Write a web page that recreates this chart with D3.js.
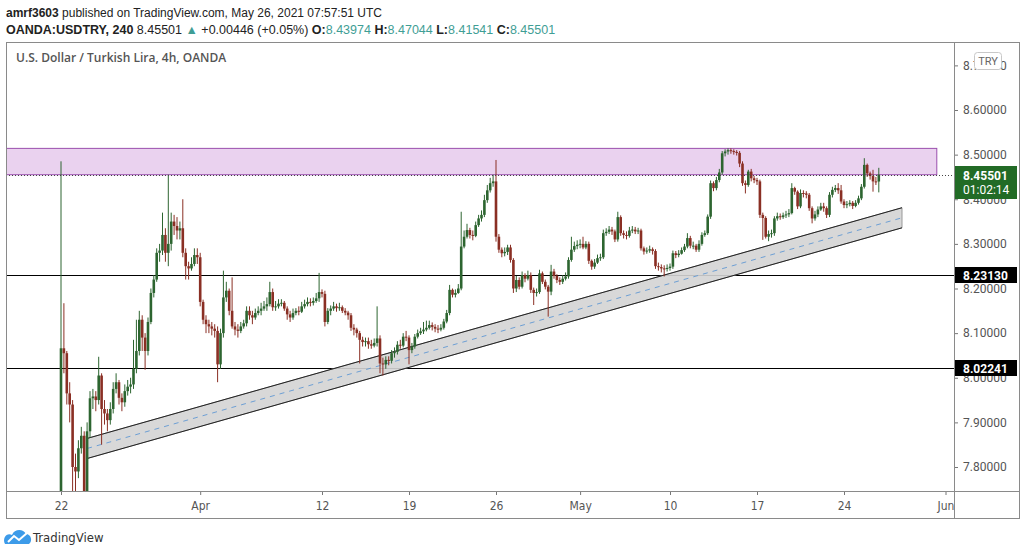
<!DOCTYPE html>
<html>
<head>
<meta charset="utf-8">
<script src="https://cdnjs.cloudflare.com/ajax/libs/d3/7.8.5/d3.min.js"></script>
<style>
  body { margin: 0; background: #fff; }
  svg { display: block; font-family: "Liberation Sans", Arial, sans-serif; }
  .yaxis text { font-family: Roboto, sans-serif; font-size: 12px; fill: #555; }
  .xaxis text { font-family: "Liberation Sans Narrow", "DejaVu Sans Condensed", sans-serif; font-size: 12px; fill: #555; }
  .yaxis path, .xaxis path { display: none; }
  .yaxis line, .xaxis line { stroke: #777; }
</style>
</head>
<body>
<script>
// 4h candles, USDTRY, 22 Mar - 26 May 2021 (open = previous close)
var firstOpen = 7.22;
var closes = [
  8.066, 8.055, 7.965, 7.940, 7.800, 7.790, 7.842, 7.870, 7.745, 7.880,
  7.954, 7.958, 7.950, 8.005, 7.930, 7.920, 7.905, 7.930, 7.975, 7.990,
  7.955, 7.945, 7.970, 7.980, 7.985, 8.020, 8.060, 8.130, 8.090, 8.060,
  8.125, 8.190, 8.220, 8.280, 8.285, 8.320, 8.280, 8.300, 8.350, 8.340,
  8.330, 8.335, 8.280, 8.250, 8.245, 8.255, 8.275, 8.270, 8.170, 8.130,
  8.120, 8.115, 8.110, 8.105, 8.030, 8.100, 8.180, 8.195, 8.150, 8.115,
  8.108, 8.105, 8.115, 8.122, 8.150, 8.140, 8.135, 8.145, 8.150, 8.155,
  8.160, 8.165, 8.192, 8.158, 8.160, 8.166, 8.168, 8.155, 8.142, 8.135,
  8.145, 8.150, 8.148, 8.160, 8.165, 8.170, 8.168, 8.172, 8.178, 8.192,
  8.188, 8.125, 8.150, 8.155, 8.160, 8.156, 8.158, 8.150, 8.146, 8.140,
  8.112, 8.108, 8.100, 8.085, 8.080, 8.082, 8.075, 8.072, 8.078, 8.088,
  8.032, 8.030, 8.040, 8.038, 8.055, 8.058, 8.074, 8.072, 8.092, 8.090,
  8.062, 8.070, 8.092, 8.100, 8.104, 8.108, 8.112, 8.118, 8.114, 8.110,
  8.108, 8.112, 8.126, 8.145, 8.197, 8.186, 8.190, 8.200, 8.294, 8.316,
  8.331, 8.320, 8.318, 8.342, 8.357, 8.365, 8.398, 8.420, 8.436, 8.440,
  8.316, 8.287, 8.279, 8.282, 8.292, 8.264, 8.200, 8.219, 8.204, 8.230,
  8.222, 8.230, 8.197, 8.190, 8.192, 8.234, 8.215, 8.204, 8.193, 8.238,
  8.228, 8.219, 8.215, 8.222, 8.227, 8.264, 8.287, 8.295, 8.298, 8.300,
  8.292, 8.300, 8.262, 8.249, 8.258, 8.268, 8.270, 8.324, 8.327, 8.332,
  8.328, 8.310, 8.360, 8.324, 8.320, 8.318, 8.330, 8.332, 8.328, 8.330,
  8.290, 8.283, 8.285, 8.288, 8.284, 8.250, 8.248, 8.245, 8.244, 8.246,
  8.249, 8.279, 8.275, 8.278, 8.286, 8.294, 8.313, 8.296, 8.296, 8.287,
  8.300, 8.320, 8.324, 8.361, 8.436, 8.425, 8.443, 8.460, 8.503, 8.507,
  8.510, 8.508, 8.506, 8.504, 8.480, 8.436, 8.432, 8.462, 8.447, 8.443,
  8.440, 8.365, 8.358, 8.316, 8.322, 8.324, 8.357, 8.362, 8.360, 8.364,
  8.366, 8.369, 8.425, 8.417, 8.384, 8.414, 8.413, 8.410, 8.380, 8.357,
  8.366, 8.377, 8.384, 8.380, 8.365, 8.410, 8.421, 8.425, 8.420, 8.395,
  8.387, 8.389, 8.392, 8.385, 8.392, 8.402, 8.428, 8.477, 8.458, 8.452,
  8.440, 8.43974, 8.45501
];
var highs = [
  8.485, 8.167, 8.060, 7.990, 7.950, 7.830, 7.860, 7.890, 7.880, 7.900,
  7.970, 7.975, 7.970, 8.047, 8.010, 7.950, 7.930, 7.945, 7.990, 8.010,
  7.995, 7.965, 7.985, 7.995, 8.000, 8.085, 8.130, 8.150, 8.140, 8.100,
  8.135, 8.200, 8.230, 8.290, 8.300, 8.370, 8.335, 8.455, 8.370, 8.365,
  8.360, 8.350, 8.400, 8.290, 8.260, 8.270, 8.290, 8.290, 8.280, 8.175,
  8.140, 8.130, 8.125, 8.120, 8.115, 8.110, 8.240, 8.215, 8.200, 8.225,
  8.125, 8.120, 8.125, 8.130, 8.160, 8.160, 8.150, 8.155, 8.160, 8.168,
  8.172, 8.180, 8.215, 8.200, 8.172, 8.176, 8.176, 8.172, 8.160, 8.150,
  8.155, 8.156, 8.160, 8.170, 8.175, 8.180, 8.178, 8.180, 8.190, 8.235,
  8.198, 8.195, 8.156, 8.162, 8.170, 8.166, 8.168, 8.162, 8.156, 8.150,
  8.145, 8.120, 8.112, 8.105, 8.092, 8.090, 8.090, 8.085, 8.088, 8.160,
  8.095, 8.045, 8.048, 8.048, 8.062, 8.068, 8.082, 8.085, 8.100, 8.105,
  8.095, 8.078, 8.098, 8.108, 8.112, 8.125, 8.128, 8.128, 8.124, 8.120,
  8.118, 8.120, 8.132, 8.152, 8.208, 8.200, 8.198, 8.210, 8.372, 8.330,
  8.345, 8.336, 8.330, 8.350, 8.365, 8.375, 8.410, 8.432, 8.448, 8.455,
  8.488, 8.322, 8.292, 8.292, 8.298, 8.298, 8.268, 8.228, 8.225, 8.238,
  8.234, 8.240, 8.236, 8.202, 8.200, 8.242, 8.238, 8.220, 8.208, 8.253,
  8.244, 8.232, 8.225, 8.230, 8.236, 8.270, 8.316, 8.305, 8.308, 8.310,
  8.316, 8.306, 8.305, 8.265, 8.266, 8.276, 8.278, 8.332, 8.335, 8.340,
  8.338, 8.332, 8.372, 8.364, 8.330, 8.328, 8.338, 8.340, 8.338, 8.336,
  8.334, 8.294, 8.292, 8.296, 8.292, 8.288, 8.258, 8.254, 8.252, 8.254,
  8.256, 8.285, 8.284, 8.286, 8.292, 8.300, 8.324, 8.318, 8.305, 8.300,
  8.308, 8.326, 8.330, 8.366, 8.442, 8.440, 8.450, 8.468, 8.508, 8.512,
  8.514, 8.514, 8.512, 8.510, 8.508, 8.485, 8.442, 8.466, 8.468, 8.452,
  8.448, 8.444, 8.370, 8.362, 8.330, 8.332, 8.362, 8.370, 8.368, 8.370,
  8.374, 8.378, 8.436, 8.428, 8.420, 8.422, 8.420, 8.418, 8.414, 8.384,
  8.374, 8.384, 8.392, 8.392, 8.384, 8.416, 8.428, 8.432, 8.436, 8.432,
  8.400, 8.396, 8.398, 8.396, 8.398, 8.408, 8.434, 8.492, 8.480, 8.462,
  8.466, 8.450, 8.47044
];
var lows = [
  7.220, 8.010, 7.940, 7.900, 7.720, 7.700, 7.775, 7.830, 7.700, 7.740,
  7.865, 7.930, 7.925, 7.940, 7.850, 7.895, 7.880, 7.895, 7.920, 7.965,
  7.940, 7.925, 7.935, 7.960, 7.965, 7.975, 8.010, 8.050, 8.060, 8.018,
  8.050, 8.120, 8.180, 8.215, 8.260, 8.275, 8.260, 8.250, 8.285, 8.320,
  8.310, 8.310, 8.270, 8.220, 8.220, 8.240, 8.250, 8.255, 8.160, 8.120,
  8.100, 8.100, 8.095, 8.090, 7.990, 8.020, 8.090, 8.170, 8.140, 8.110,
  8.095, 8.090, 8.100, 8.110, 8.115, 8.130, 8.120, 8.130, 8.140, 8.140,
  8.150, 8.150, 8.160, 8.150, 8.150, 8.155, 8.160, 8.150, 8.130, 8.125,
  8.130, 8.140, 8.140, 8.145, 8.155, 8.160, 8.160, 8.162, 8.168, 8.170,
  8.180, 8.115, 8.120, 8.140, 8.150, 8.148, 8.150, 8.145, 8.140, 8.130,
  8.105, 8.095, 8.090, 8.032, 8.070, 8.070, 8.065, 8.065, 8.068, 8.070,
  8.010, 8.005, 8.020, 8.028, 8.032, 8.045, 8.052, 8.065, 8.068, 8.082,
  8.030, 8.055, 8.065, 8.088, 8.096, 8.098, 8.104, 8.108, 8.106, 8.102,
  8.100, 8.104, 8.108, 8.122, 8.140, 8.180, 8.180, 8.188, 8.196, 8.290,
  8.312, 8.312, 8.308, 8.315, 8.338, 8.350, 8.360, 8.392, 8.415, 8.428,
  8.305, 8.280, 8.270, 8.272, 8.275, 8.258, 8.190, 8.192, 8.198, 8.200,
  8.214, 8.218, 8.190, 8.163, 8.182, 8.188, 8.210, 8.198, 8.137, 8.185,
  8.222, 8.212, 8.208, 8.210, 8.218, 8.222, 8.260, 8.282, 8.288, 8.290,
  8.288, 8.288, 8.255, 8.242, 8.244, 8.255, 8.262, 8.266, 8.318, 8.322,
  8.320, 8.304, 8.305, 8.318, 8.312, 8.310, 8.314, 8.324, 8.322, 8.322,
  8.285, 8.276, 8.278, 8.280, 8.276, 8.244, 8.240, 8.236, 8.227, 8.238,
  8.240, 8.244, 8.268, 8.270, 8.276, 8.282, 8.290, 8.290, 8.288, 8.282,
  8.282, 8.296, 8.316, 8.320, 8.356, 8.418, 8.420, 8.438, 8.455, 8.496,
  8.500, 8.502, 8.500, 8.498, 8.472, 8.430, 8.413, 8.428, 8.440, 8.436,
  8.432, 8.358, 8.309, 8.312, 8.306, 8.314, 8.318, 8.352, 8.354, 8.356,
  8.358, 8.360, 8.366, 8.410, 8.378, 8.380, 8.404, 8.402, 8.374, 8.346,
  8.352, 8.360, 8.374, 8.372, 8.358, 8.360, 8.404, 8.416, 8.412, 8.390,
  8.380, 8.380, 8.384, 8.378, 8.382, 8.388, 8.398, 8.424, 8.450, 8.444,
  8.417, 8.432, 8.41541
];

var dateTicks = [0, 48, 90, 120, 150, 179, 210, 240, 270, 305];
var dateLabels = ["22", "Apr", "12", "19", "26", "May", "10", "17", "24", "Jun"];
var priceTicks = [7.8, 7.9, 8.0, 8.1, 8.2, 8.3, 8.4, 8.5, 8.6, 8.7];

var levels = [8.2313, 8.02241];
var zone = { top: 8.514, bottom: 8.455, end: 302 };
var channelIdx = [9, 290];
var channelUpper = [7.864, 8.381];
var channelLower = [7.819, 8.336];
var lastPrice = 8.45501, countdown = "01:02:14";
var change = "+0.00446 (+0.05%)";

var plot = { left: 6, right: 954, top: 42, bottom: 491 },
    frameRight = 1019, frameBottom = 518;

var upColor = "#2d6530", downColor = "#8a2f24", teal = "#3f9e95";

var svg = d3.select("body").append("svg")
    .attr("width", 1029)
    .attr("height", 555);

var xScale = d3.scaleLinear().domain([0, 282]).range([61, 878.8]);
var yScale = d3.scaleLinear().domain([7.8, 8.6]).range([467, 110]);

var candles = closes.map(function (c, i) {
    return { i: i, o: i === 0 ? firstOpen : closes[i - 1], h: highs[i], l: lows[i], c: c };
});

svg.append("clipPath").attr("id", "plotClip")
    .append("rect")
    .attr("x", plot.left).attr("y", plot.top)
    .attr("width", plot.right - plot.left).attr("height", plot.bottom - plot.top);

svg.append("clipPath").attr("id", "xClip")
    .append("rect")
    .attr("x", plot.left).attr("y", plot.bottom)
    .attr("width", plot.right - plot.left).attr("height", frameBottom - plot.bottom);

var g = svg.append("g").attr("clip-path", "url(#plotClip)");

// resistance zone
g.append("rect")
    .attr("x", plot.left - 5)
    .attr("y", yScale(zone.top))
    .attr("width", xScale(zone.end) - plot.left + 5)
    .attr("height", yScale(zone.bottom) - yScale(zone.top))
    .style("fill", "#ead2ef")
    .attr("stroke", "#9a4fae")
    .style("stroke-width", 1);

// horizontal levels
g.selectAll(".level")
    .data(levels)
    .enter().append("line")
    .attr("class", "level")
    .attr("x1", plot.left).attr("x2", plot.right)
    .attr("y1", function (d) { return Math.round(yScale(d)) + 0.5; })
    .attr("y2", function (d) { return Math.round(yScale(d)) + 0.5; })
    .attr("stroke", "#000");

// rising channel
var chPts = [
    [xScale(channelIdx[0]), yScale(channelUpper[0])],
    [xScale(channelIdx[1]), yScale(channelUpper[1])],
    [xScale(channelIdx[1]), yScale(channelLower[1])],
    [xScale(channelIdx[0]), yScale(channelLower[0])]
];
g.append("polygon")
    .attr("points", chPts.map(function (p) { return p.join(","); }).join(" "))
    .style("fill", "#d4d4d4")
    .style("fill-opacity", 0.9)
    .attr("stroke", "#999");
g.append("line")
    .attr("x1", chPts[0][0]).attr("y1", chPts[0][1])
    .attr("x2", chPts[1][0]).attr("y2", chPts[1][1])
    .attr("stroke", "#222");
g.append("line")
    .attr("x1", chPts[3][0]).attr("y1", chPts[3][1])
    .attr("x2", chPts[2][0]).attr("y2", chPts[2][1])
    .attr("stroke", "#222");
g.append("line")
    .attr("x1", chPts[0][0]).attr("y1", (chPts[0][1] + chPts[3][1]) / 2)
    .attr("x2", chPts[1][0]).attr("y2", (chPts[1][1] + chPts[2][1]) / 2)
    .attr("stroke", "#6d9fd4")
    .attr("stroke-dasharray", "5,5");

// candles
var cg = g.append("g");
cg.selectAll(".wick")
    .data(candles)
    .enter().append("line")
    .attr("class", "wick")
    .attr("x1", function (d) { return xScale(d.i); })
    .attr("x2", function (d) { return xScale(d.i); })
    .attr("y1", function (d) { return yScale(d.h); })
    .attr("y2", function (d) { return yScale(d.l); })
    .attr("stroke", function (d) { return d.c >= d.o ? upColor : downColor; })
    .style("stroke-width", 1);

cg.selectAll(".body")
    .data(candles)
    .enter().append("rect")
    .attr("class", "body")
    .attr("x", function (d) { return xScale(d.i) - 1.3; })
    .attr("width", 2.6)
    .attr("y", function (d) { return yScale(Math.max(d.o, d.c)); })
    .attr("height", function (d) { return Math.max(1, Math.abs(yScale(d.o) - yScale(d.c))); })
    .style("fill", function (d) { return d.c >= d.o ? upColor : downColor; });

// last price dotted line
svg.append("line")
    .attr("x1", plot.left).attr("x2", plot.right + 4)
    .attr("y1", Math.round(yScale(lastPrice)) + 0.5)
    .attr("y2", Math.round(yScale(lastPrice)) + 0.5)
    .attr("stroke", "#444")
    .attr("stroke-dasharray", "1,2");

// axes
var yAxis = d3.axisRight(yScale)
    .tickValues(priceTicks)
    .tickSize(4)
    .tickPadding(5)
    .tickFormat(d3.format(".5f"));
svg.append("g")
    .attr("class", "yaxis")
    .attr("transform", "translate(" + plot.right + ",0)")
    .call(yAxis);

var xAxis = d3.axisBottom(xScale)
    .tickValues(dateTicks)
    .tickSize(4)
    .tickPadding(6)
    .tickFormat(function (d, i) { return dateLabels[i]; });
svg.append("g")
    .attr("clip-path", "url(#xClip)")
    .append("g")
    .attr("class", "xaxis")
    .attr("transform", "translate(0," + plot.bottom + ")")
    .call(xAxis);

// price labels on axis
var lbl = svg.selectAll(".lvlLabel")
    .data(levels)
    .enter().append("g")
    .attr("class", "lvlLabel")
    .attr("transform", function (d) { return "translate(" + plot.right + "," + Math.round(yScale(d)) + ")"; });
lbl.append("rect")
    .attr("x", 0).attr("y", -8).attr("width", 63).attr("height", 16)
    .style("fill", "#000");
lbl.append("text")
    .attr("x", 9).attr("y", 4.5)
    .style("fill", "#fff").style("font-weight", "bold")
    .style("font-family", "Roboto, sans-serif").style("font-size", "12px")
    .text(function (d) { return d3.format(".5f")(d); });

var last = svg.append("g")
    .attr("transform", "translate(" + plot.right + "," + Math.round(yScale(lastPrice)) + ")");
last.append("rect")
    .attr("x", 0).attr("y", -9).attr("width", 63).attr("height", 33)
    .style("fill", "#226b26");
last.append("text")
    .attr("x", 9).attr("y", 4.5)
    .style("fill", "#fff").style("font-weight", "bold")
    .style("font-family", "Roboto, sans-serif").style("font-size", "12px")
    .text(d3.format(".5f")(lastPrice));
last.append("text")
    .attr("x", 9).attr("y", 19)
    .style("fill", "#fff")
    .style("font-family", "Roboto, sans-serif").style("font-size", "12px")
    .text(countdown);

// currency badge
svg.append("rect")
    .attr("x", 974.5).attr("y", 52.5).attr("width", 27).attr("height", 17).attr("rx", 3)
    .style("fill", "#fff").attr("stroke", "#c8c8c8");
svg.append("text")
    .attr("x", 988).attr("y", 65)
    .attr("text-anchor", "middle")
    .style("font-family", "Roboto, sans-serif").style("font-size", "11px")
    .style("fill", "#666")
    .text("TRY");

// frame
var frame = svg.append("g").attr("stroke", "#8a8a8a").style("fill", "none");
frame.append("rect")
    .attr("x", plot.left + 0.5).attr("y", plot.top + 0.5)
    .attr("width", frameRight - plot.left).attr("height", frameBottom - plot.top);
frame.append("line")
    .attr("x1", plot.right + 0.5).attr("x2", plot.right + 0.5)
    .attr("y1", plot.top).attr("y2", frameBottom);
frame.append("line")
    .attr("x1", plot.left).attr("x2", frameRight)
    .attr("y1", plot.bottom + 0.5).attr("y2", plot.bottom + 0.5);

// header
var h1 = svg.append("text").attr("x", 6).attr("y", 17)
    .style("font-size", "12px").style("fill", "#222");
h1.append("tspan").style("font-weight", "bold").text("amrf3603");
h1.append("tspan").text(" published on TradingView.com, May 26, 2021 07:57:51 UTC");

var lastC = candles[candles.length - 1];
var ohlc = [["O:", lastC.o], ["H:", lastC.h], ["L:", lastC.l], ["C:", lastC.c]];
var h2 = svg.append("text").attr("x", 6).attr("y", 34)
    .style("font-size", "12.5px").style("fill", "#222");
h2.append("tspan").style("font-weight", "bold").text("OANDA:USDTRY, 240");
h2.append("tspan").text(" " + d3.format(".5f")(lastPrice) + " ");
h2.append("tspan").style("fill", teal).text("\u25B2");
h2.append("tspan").text(" " + change);
ohlc.forEach(function (p) {
    h2.append("tspan").style("font-weight", "bold").text(" " + p[0]);
    h2.append("tspan").style("fill", teal).text(d3.format(".5f")(p[1]));
});

svg.append("text")
    .attr("x", 16).attr("y", 62)
    .style("font-family", "\"Open Sans\", sans-serif")
    .style("font-size", "12px").style("font-weight", 600).style("fill", "#555")
    .text("U.S. Dollar / Turkish Lira, 4h, OANDA");

// TradingView logo
var logo = svg.append("g");
logo.append("path")
    .attr("d", "M5,544 C2,538 7,532 12,535 C14,529 23,528 26,534 C31,534 33,541 29,544 Z")
    .style("fill", "#3d9be9");
logo.append("polyline")
    .attr("points", "8,542 14,536 19,540 27,533")
    .style("fill", "none")
    .attr("stroke", "#fff")
    .style("stroke-width", 2);
svg.append("text")
    .attr("x", 33).attr("y", 542)
    .style("font-family", "\"Liberation Sans Narrow\", \"DejaVu Sans Condensed\", sans-serif")
    .style("font-size", "13px").style("fill", "#333")
    .text("TradingView");
</script>
</body>
</html>
